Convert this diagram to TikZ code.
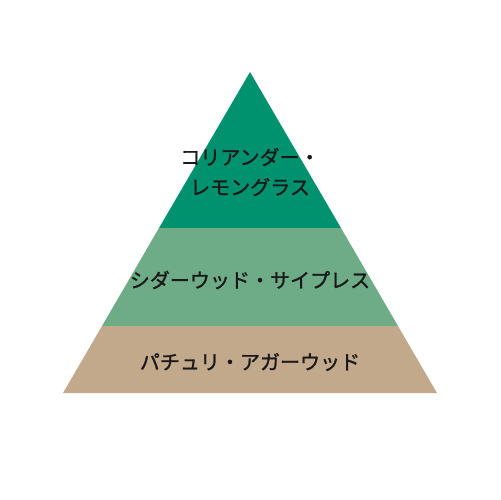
\documentclass[tikz,border=0pt]{standalone}
\usepackage{fontspec}
\newfontfamily\cjk[FakeBold=1.2]{Noto Sans CJK JP}
\definecolor{topgreen}{HTML}{00916F}
\definecolor{midgreen}{HTML}{6DAC87}
\definecolor{basetan}{HTML}{C3A98C}
\tikzset{
  band/.style={draw=none},
  note/.style={font=\cjk\fontsize{11.4}{17.1}\selectfont, text=black!90, align=center, inner sep=0pt}
}
\begin{document}
\begin{tikzpicture}[x=0.02cm, y=-0.02cm]
  \useasboundingbox (0,0) rectangle (500,500);
  % pyramid bands, top to bottom
  \fill[band, topgreen] (250,72) -- (341,228) -- (159,228) -- cycle;
  \fill[band, midgreen] (159,228) -- (341,228) -- (398,326) -- (102,326) -- cycle;
  \fill[band, basetan] (102,326) -- (398,326) -- (437,393) -- (63,393) -- cycle;
  % labels
  \node[note] (top) at (250,172) {コリアンダー・\\レモングラス};
  \node[note] (middle) at (250,280) {シダーウッド・サイプレス};
  \node[note] (base) at (250,362) {パチュリ・アガーウッド};
\end{tikzpicture}
\end{document}
